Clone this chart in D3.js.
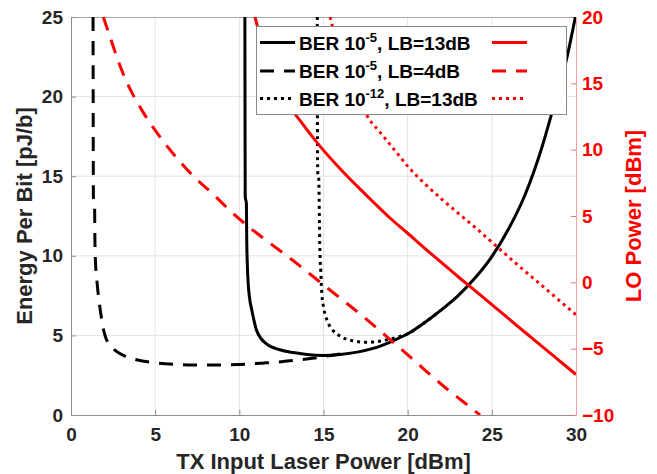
<!DOCTYPE html>
<html><head><meta charset="utf-8">
<script src="https://cdn.jsdelivr.net/npm/d3@7"></script>
<style>body{margin:0;background:#fff} svg{display:block;font-family:"Liberation Sans",Arial,sans-serif}</style>
</head><body><svg id="c" width="657" height="474"></svg>
<script>
// ---- data ----
const xTicks = [0, 5, 10, 15, 20, 25, 30];
const leftTicks = [0, 5, 10, 15, 20, 25];
const rightTicks = [-10, -5, 0, 5, 10, 15, 20];

// Energy per bit [pJ/b] vs TX input laser power [dBm] (left axis)
const epbBER5LB13 = [[10.33,25],[10.34,18],[10.35,13.7],[10.42,13.3],[10.44,11],[10.47,9.6],[10.53,8.2],[10.6,7.4],[10.74,6.6],[11.03,5.3],[11.63,4.45],[12.4,4.1],[13.2,3.92],[14.0,3.8],[15.0,3.74],[16.0,3.8],[17.0,3.95],[18.0,4.2],[19.0,4.6],[20.0,5.1],[21.0,5.8],[22.0,6.6],[23.0,7.5],[24.0,8.6],[25.0,9.95],[26.0,11.7],[27.0,13.9],[28.0,16.9],[28.6,19.1],[29.45,22.4],[30.0,25.2]];
const epbBER5LB4 = [[1.31,25],[1.32,18],[1.33,13.7],[1.40,13.3],[1.42,11],[1.46,9.5],[1.55,8.3],[1.65,7.3],[1.78,6.3],[1.9,5.5],[2.05,4.9],[2.3,4.4],[2.7,4.0],[3.2,3.7],[3.9,3.47],[5.0,3.28],[6.2,3.18],[7.3,3.14],[8.5,3.14],[9.5,3.16],[10.5,3.2],[11.5,3.27],[12.5,3.35],[13.6,3.47],[14.6,3.6],[15.6,3.77],[16.4,3.88]];
const epbBER12LB13 = [[14.63,25],[14.64,18],[14.66,15.2],[14.72,14.8],[14.76,12],[14.78,10.6],[14.84,9],[14.9,7.64],[15.0,6.8],[15.2,5.97],[15.5,5.4],[15.98,4.95],[16.5,4.72],[16.97,4.62],[17.5,4.57],[17.9,4.58],[18.5,4.66],[19.0,4.78],[19.5,4.92],[20.0,5.1],[21.0,5.8],[22.0,6.6]];

// LO power [dBm] vs TX input laser power [dBm] (right axis)
const loBER5LB13 = [[10.93,20],[11.4,17.8],[12.0,15.7],[12.7,13.8],[13.6,12.2],[14.8,10.25],[16.0,8.55],[17.0,7.25],[18.0,6.0],[18.95,4.85],[20.0,3.7],[21.0,2.58],[22.0,1.5],[23.0,0.42],[24.0,-0.62],[25.0,-1.68],[26.0,-2.74],[27.0,-3.8],[28.0,-4.85],[29.0,-5.9],[30,-6.95]];
const loBER5LB4 = [[1.92,20],[2.32,18.5],[2.8,16.7],[3.31,15.1],[4.2,13.0],[5.09,11.3],[6.2,9.5],[7.27,8.0],[8.4,6.7],[9.45,5.4],[10.4,4.35],[11.4,3.35],[12.4,2.4],[13.41,1.43],[14.4,0.42],[15.4,-0.6],[16.4,-1.6],[17.37,-2.59],[18.4,-3.7],[19.4,-4.8],[20.4,-5.9],[21.33,-6.95],[22.3,-8.0],[23.3,-9.0],[24.3,-10]];
const loBER12LB13 = [[15.39,20],[15.85,17.8],[16.45,15.7],[17.1,13.85],[17.57,12.6],[18.4,11.25],[19.3,9.85],[20.14,8.55],[21.0,7.45],[22.0,6.3],[22.92,5.3],[24.0,4.15],[25.29,2.7],[26.5,1.35],[27.7,0.05],[28.9,-1.25],[30,-2.45]];

const legendLabels = [["-5", "LB=13dB"], ["-5", "LB=4dB"], ["-12", "LB=13dB"]];
const dashStyles = [null, "14,10", "3,4"];

// ---- layout ----
const L = 71, R = 576, T = 17, B = 415;
const svg = d3.select("#c");
const x = d3.scaleLinear().domain([0, 30]).range([L, R]);
const yL = d3.scaleLinear().domain([0, 25]).range([B, T]);
const yR = d3.scaleLinear().domain([-10, 20]).range([B, T]);
const txt = "#262626", red = "#ff0000";

// grid
const g = svg.append("g");
g.selectAll("line.gx").data(xTicks.slice(1, -1)).join("line")
  .attr("x1", d => x(d)).attr("x2", d => x(d)).attr("y1", T).attr("y2", B)
  .attr("stroke", "#e3e3e3").attr("stroke-width", 1);
g.selectAll("line.gy").data(leftTicks.slice(1, -1)).join("line")
  .attr("x1", L).attr("x2", R).attr("y1", d => yL(d)).attr("y2", d => yL(d))
  .attr("stroke", "#e3e3e3").attr("stroke-width", 1);
// top border
svg.append("line").attr("x1", L).attr("x2", R).attr("y1", T + 0.5).attr("y2", T + 0.5).attr("stroke", "#a6a6a6");

// axes
const fs = 19;
const ax = svg.append("g").attr("transform", `translate(0,${B})`)
  .call(d3.axisBottom(x).tickValues(xTicks).tickSize(-5).tickPadding(13));
const ayl = svg.append("g").attr("transform", `translate(${L},0)`)
  .call(d3.axisLeft(yL).tickValues(leftTicks).tickSize(-5).tickPadding(8));
const ayr = svg.append("g").attr("transform", `translate(${R},0)`)
  .call(d3.axisRight(yR).tickValues(rightTicks).tickSize(-5).tickPadding(6));
[ax, ayl].forEach(a => {
  a.select(".domain").attr("stroke", "#8c8c8c");
  a.selectAll(".tick line").attr("stroke", "#8c8c8c");
  a.selectAll("text").attr("fill", txt).attr("font-size", fs).attr("font-weight", "bold")
    .attr("font-family", "Liberation Sans, Arial, sans-serif");
});
ayr.select(".domain").attr("stroke", "#ff9c9c");
ayr.selectAll(".tick line").attr("stroke", "#ff7070");
ayr.selectAll("text").attr("fill", red).attr("font-size", fs).attr("font-weight", "bold")
  .attr("font-family", "Liberation Sans, Arial, sans-serif");

// clip
svg.append("clipPath").attr("id", "clip").append("rect")
  .attr("x", L).attr("y", T).attr("width", R - L).attr("height", B - T);
const plot = svg.append("g").attr("clip-path", "url(#clip)");

const lineL = d3.line().x(d => x(d[0])).y(d => yL(d[1])).curve(d3.curveMonotoneX);
const lineR = d3.line().x(d => x(d[0])).y(d => yR(d[1])).curve(d3.curveMonotoneX);

const leftSeries = [epbBER5LB13, epbBER5LB4, epbBER12LB13];
const rightSeries = [loBER5LB13, loBER5LB4, loBER12LB13];
leftSeries.forEach((s, i) => {
  plot.append("path").attr("d", lineL(s)).attr("fill", "none").attr("stroke", "#000")
    .attr("stroke-width", 3).attr("stroke-dasharray", dashStyles[i]);
});
rightSeries.forEach((s, i) => {
  plot.append("path").attr("d", lineR(s)).attr("fill", "none").attr("stroke", red)
    .attr("stroke-width", 3).attr("stroke-dasharray", dashStyles[i]);
});

// axis titles
svg.append("text").attr("x", (L + R) / 2).attr("y", 469).attr("text-anchor", "middle")
  .attr("font-size", 22).attr("font-weight", "bold").attr("fill", txt)
  .text("TX Input Laser Power [dBm]");
svg.append("text").attr("transform", `translate(32,${(T + B) / 2}) rotate(-90)`).attr("text-anchor", "middle")
  .attr("font-size", 22).attr("font-weight", "bold").attr("fill", txt)
  .text("Energy Per Bit [pJ/b]");
svg.append("text").attr("transform", `translate(641,${(T + B) / 2}) rotate(-90)`).attr("text-anchor", "middle")
  .attr("font-size", 22).attr("font-weight", "bold").attr("fill", red)
  .text("LO Power [dBm]");

// legend
const lg = svg.append("g");
lg.append("rect").attr("x", 256.5).attr("y", 26.5).attr("width", 310).attr("height", 88)
  .attr("fill", "#fff").attr("stroke", "#8a8a8a").attr("stroke-width", 1);
const rowY = [42.5, 71, 98.5];
legendLabels.forEach((lab, i) => {
  const yy = rowY[i];
  lg.append("line").attr("x1", 260).attr("x2", 295).attr("y1", yy).attr("y2", yy)
    .attr("stroke", "#000").attr("stroke-width", 3).attr("stroke-dasharray", dashStyles[i]);
  lg.append("line").attr("x1", 492).attr("x2", 527).attr("y1", yy).attr("y2", yy)
    .attr("stroke", red).attr("stroke-width", 3).attr("stroke-dasharray", dashStyles[i]);
  const t = lg.append("text").attr("x", 299).attr("y", yy + 7).attr("font-size", 19)
    .attr("font-weight", "bold").attr("fill", "#000");
  t.append("tspan").text("BER 10");
  t.append("tspan").attr("dy", -8).attr("font-size", 13).text(lab[0]);
  t.append("tspan").attr("dy", 8).text(", " + lab[1]);
});
</script></body></html>
